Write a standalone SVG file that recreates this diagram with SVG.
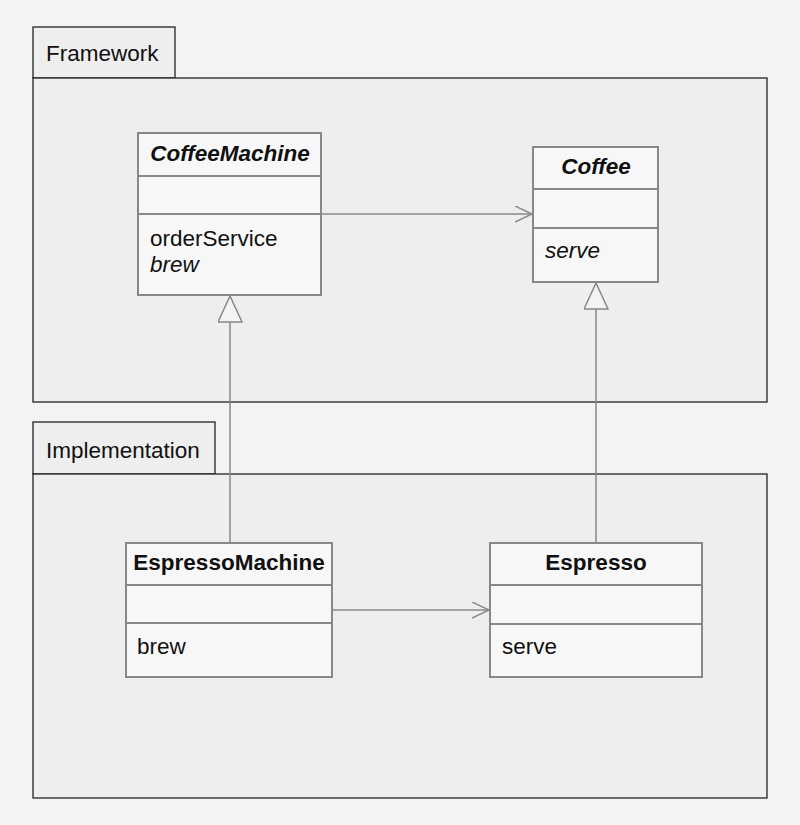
<svg xmlns="http://www.w3.org/2000/svg" width="800" height="825" viewBox="0 0 800 825">
<style>
.pkg{fill:#eeeeee;stroke:#222;stroke-width:1.3}
.cls{fill:#f7f7f7;stroke:#888;stroke-width:2}
.div{stroke:#888;stroke-width:2}
.t{font-family:"Liberation Sans",Arial,sans-serif;font-size:22.5px;fill:#111}
.b{font-weight:bold}
.i{font-style:italic}
.con{stroke:#888;stroke-width:1.5;fill:none}
</style>
<defs>
<marker id="open" markerWidth="20" markerHeight="20" refX="17" refY="8" orient="auto" markerUnits="userSpaceOnUse">
<path d="M0,0 L17,8 L0,16" fill="none" stroke="#888" stroke-width="1.5"/>
</marker>
<marker id="tri" markerWidth="30" markerHeight="30" refX="27" refY="12.5" orient="auto" markerUnits="userSpaceOnUse">
<path d="M1,0.5 L27,12.5 L1,24.5 Z" fill="#f3f3f5" stroke="#888" stroke-width="1.5"/>
</marker>
</defs>
<rect width="800" height="825" fill="#f3f3f5"/>
<g id="framework">
<rect class="pkg" x="33" y="27" width="142" height="51"/>
<rect class="pkg" x="33" y="78" width="734" height="324"/>
<text class="t" x="46" y="61">Framework</text>
</g>
<g id="implementation">
<rect class="pkg" x="33" y="422" width="182" height="52"/>
<rect class="pkg" x="33" y="474" width="734" height="324"/>
<text class="t" x="46" y="458">Implementation</text>
</g>
<g id="connectors">
<line class="con" x1="321" y1="214" x2="532" y2="214" marker-end="url(#open)"/>
<line class="con" x1="332" y1="610" x2="489" y2="610" marker-end="url(#open)"/>
<line class="con" x1="230" y1="542" x2="230" y2="296" marker-end="url(#tri)"/>
<line class="con" x1="596" y1="542" x2="596" y2="283" marker-end="url(#tri)"/>
</g>
<g id="CoffeeMachine">
<rect class="cls" x="138" y="133" width="183" height="162"/>
<line class="div" x1="138" y1="176" x2="321" y2="176"/>
<line class="div" x1="138" y1="214" x2="321" y2="214"/>
<text class="t b i" x="230" y="161" text-anchor="middle">CoffeeMachine</text>
<text class="t" x="150" y="246">orderService</text>
<text class="t i" x="150" y="272">brew</text>
</g>
<g id="Coffee">
<rect class="cls" x="533" y="147" width="125" height="135"/>
<line class="div" x1="533" y1="189" x2="658" y2="189"/>
<line class="div" x1="533" y1="228" x2="658" y2="228"/>
<text class="t b i" x="596" y="174" text-anchor="middle">Coffee</text>
<text class="t i" x="545" y="258">serve</text>
</g>
<g id="EspressoMachine">
<rect class="cls" x="126" y="543" width="206" height="134"/>
<line class="div" x1="126" y1="585" x2="332" y2="585"/>
<line class="div" x1="126" y1="623" x2="332" y2="623"/>
<text class="t b" x="229" y="570" text-anchor="middle">EspressoMachine</text>
<text class="t" x="137" y="654">brew</text>
</g>
<g id="Espresso">
<rect class="cls" x="490" y="543" width="212" height="134"/>
<line class="div" x1="490" y1="585" x2="702" y2="585"/>
<line class="div" x1="490" y1="624" x2="702" y2="624"/>
<text class="t b" x="596" y="570" text-anchor="middle">Espresso</text>
<text class="t" x="502" y="654">serve</text>
</g>
</svg>
